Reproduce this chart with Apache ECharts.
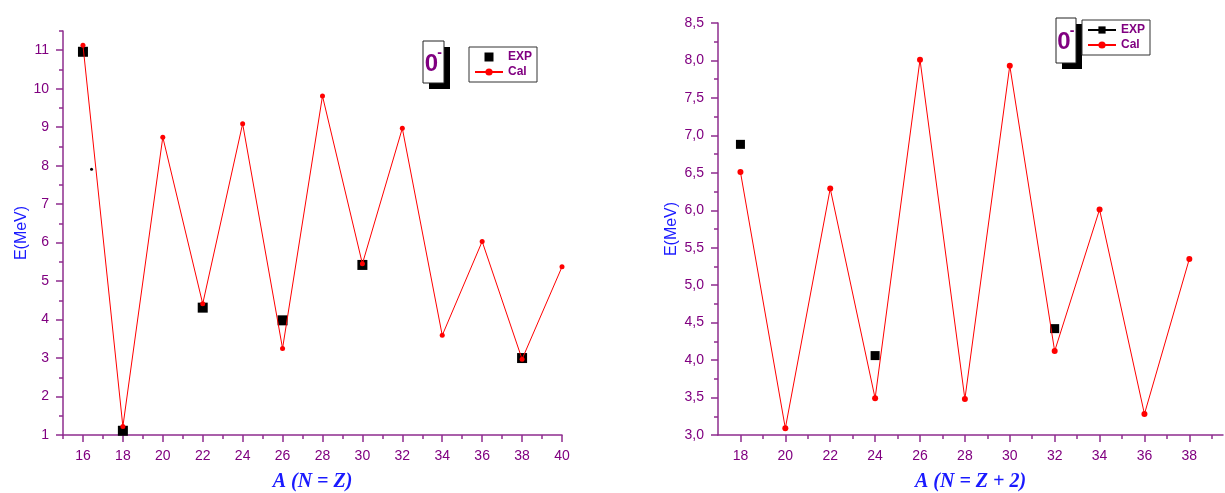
<!DOCTYPE html>
<html><head><meta charset="utf-8">
<script src="https://cdn.jsdelivr.net/npm/echarts@6/dist/echarts.min.js"></script>
<style>html,body{margin:0;padding:0;background:#fff}#c{width:1225px;height:493px}</style>
</head><body><div id="c"></div>
<script>
// ---- data ----
const leftX = [16,18,20,22,24,26,28,30,32,34,36,38,40];
const leftCal = [11.13,1.22,8.74,4.41,9.09,3.25,9.81,5.45,8.97,3.59,6.03,2.97,5.37];
const leftExpX = [16,18,22,26,30,38];
const leftExp = [10.96,1.11,4.31,3.98,5.42,3.00];
const leftStrayX = [16.43];
const leftStrayY = [7.91];
const rightX = [18,20,22,24,26,28,30,32,34,36,38];
const rightCal = [6.51,3.09,6.29,3.49,8.01,3.48,7.93,4.12,6.01,3.28,5.35];
const rightExpX = [18,24,32];
const rightExp = [6.88,4.06,4.42];
// tick positions
const leftXMajor = [16,18,20,22,24,26,28,30,32,34,36,38,40];
const leftXMinor = [15,17,19,21,23,25,27,29,31,33,35,37,39];
const leftYMajor = [1,2,3,4,5,6,7,8,9,10,11];
const leftYMinor = [1.5,2.5,3.5,4.5,5.5,6.5,7.5,8.5,9.5,10.5,11.5];
const rightXMajor = [18,20,22,24,26,28,30,32,34,36,38];
const rightXMinor = [19,21,23,25,27,29,31,33,35,37,39];
const rightYMajor = [3,3.5,4,4.5,5,5.5,6,6.5,7,7.5,8,8.5];
const rightYMinor = [3.25,3.75,4.25,4.75,5.25,5.75,6.25,6.75,7.25,7.75,8.25];

const PURPLE = '#800080';
const AXIS = '#8e2c8e';
const BLUE = '#1a1aff';
const FONT = 'Liberation Sans, Arial, sans-serif';

function pairs(xs, ys){ return xs.map((x,i)=>[x, ys[i]]); }
function broken(xs, ys){
  const out = [];
  xs.forEach((x,i)=>{ if(i>0) out.push([(xs[i-1]+x)/2, null]); out.push([x, ys[i]]); });
  return out;
}

function xMain(grid, min, max, major, name){
  return {type:'value', gridIndex:grid, min:min, max:max, position:'bottom',
    axisLine:{show:true, lineStyle:{color:AXIS, width:1.5}},
    axisTick:{show:true, length:7, customValues:major, lineStyle:{color:AXIS, width:1.5}},
    axisLabel:{show:true, customValues:major, color:PURPLE, fontSize:14, fontFamily:FONT, margin:14},
    splitLine:{show:false},
    name:name, nameLocation:'middle', nameGap:37,
    nameTextStyle:{color:BLUE, fontSize:20, fontStyle:'italic', fontWeight:'bold', fontFamily:'Liberation Serif, DejaVu Serif, serif'}
  };
}
function xMinor(grid, min, max, minor){
  return {type:'value', gridIndex:grid, min:min, max:max, position:'bottom',
    axisLine:{show:false}, axisLabel:{show:false}, splitLine:{show:false},
    axisTick:{show:true, length:4, customValues:minor, lineStyle:{color:AXIS, width:1.5}}};
}
function yMain(grid, min, max, major, fmt, gap){
  return {type:'value', gridIndex:grid, min:min, max:max, position:'left',
    axisLine:{show:true, lineStyle:{color:AXIS, width:1.5}},
    axisTick:{show:true, length:7, customValues:major, lineStyle:{color:AXIS, width:1.5}},
    axisLabel:{show:true, customValues:major, color:PURPLE, fontSize:14, fontFamily:FONT, margin:14, formatter:fmt},
    splitLine:{show:false},
    name:'E(MeV)', nameLocation:'middle', nameGap:gap, nameRotate:90,
    nameTextStyle:{color:BLUE, fontSize:16, fontFamily:FONT}
  };
}
function yMinor(grid, min, max, minor){
  return {type:'value', gridIndex:grid, min:min, max:max, position:'left',
    axisLine:{show:false}, axisLabel:{show:false}, splitLine:{show:false},
    axisTick:{show:true, length:4, customValues:minor, lineStyle:{color:AXIS, width:1.5}}};
}

const legendBase = {orient:'vertical', borderColor:'#333', borderWidth:1, padding:[4,5,4,5],
  itemGap:3, itemWidth:28, itemHeight:9, backgroundColor:'#fff',
  textStyle:{color:PURPLE, fontWeight:'bold', fontSize:12, fontFamily:FONT},
  formatter: n => n.replace('2','')};

function titleBox(x, y, w, h){
  return {type:'group', children:[
    {type:'rect', shape:{x:x+6, y:y+6, width:w, height:h}, style:{fill:'#000'}},
    {type:'rect', shape:{x:x, y:y, width:w, height:h}, style:{fill:'#fff', stroke:'#222', lineWidth:1}},
    {type:'text', x:x+w/2-2, y:y+h/2+2, style:{text:'0', fill:PURPLE, font:'bold 24px '+FONT, align:'center', verticalAlign:'middle'}},
    {type:'text', x:x+w/2+6, y:y+h/2-9, style:{text:'-', fill:PURPLE, font:'bold 14px '+FONT, align:'center', verticalAlign:'middle'}}
  ]};
}

const chart = echarts.init(document.getElementById('c'), null, {renderer:'canvas'});
chart.setOption({
  animation:false,
  backgroundColor:'#fff',
  grid:[
    {left:63, top:31, width:499, height:404, containLabel:false, outerBoundsMode:'none'},
    {left:718, top:23, width:505, height:412, containLabel:false, outerBoundsMode:'none'}
  ],
  xAxis:[
    xMain(0, 15, 40, leftXMajor, 'A (N = Z)'),
    xMinor(0, 15, 40, leftXMinor),
    xMain(1, 17, 39.5, rightXMajor, 'A (N = Z + 2)'),
    xMinor(1, 17, 39.5, rightXMinor)
  ],
  yAxis:[
    yMain(0, 1, 11.5, leftYMajor, v => String(v), 32),
    yMinor(0, 1, 11.5, leftYMinor),
    yMain(1, 3, 8.5, rightYMajor, v => v.toFixed(1).replace('.', ','), 38),
    yMinor(1, 3, 8.5, rightYMinor)
  ],
  legend:[
    Object.assign({}, legendBase, {left:469, top:47,
      data:[{name:'EXP', icon:'path://M0,0H10V10H0Z'}, {name:'Cal'}]}),
    Object.assign({}, legendBase, {left:1082, top:20,
      data:[{name:'EXP2'}, {name:'Cal2'}]})
  ],
  graphic:[ titleBox(423, 41, 21, 42), titleBox(1056, 18, 20, 45) ],
  series:[
    {name:'EXP', type:'scatter', xAxisIndex:0, yAxisIndex:0, data:pairs(leftExpX, leftExp),
      symbol:'rect', symbolSize:10, itemStyle:{color:'#000', opacity:1}, z:2},
    {name:'stray', type:'scatter', xAxisIndex:0, yAxisIndex:0, data:pairs(leftStrayX, leftStrayY),
      symbol:'circle', symbolSize:3, itemStyle:{color:'#000', opacity:1}, z:2},
    {name:'Cal', type:'line', xAxisIndex:0, yAxisIndex:0, data:pairs(leftX, leftCal),
      symbol:'circle', symbolSize:5, showSymbol:true, lineStyle:{color:'#ff0000', width:1},
      itemStyle:{color:'#ff0000'}, z:3},
    {name:'EXP2', type:'line', xAxisIndex:2, yAxisIndex:2, data:broken(rightExpX, rightExp),
      connectNulls:false, symbol:'rect', symbolSize:9, showSymbol:true,
      lineStyle:{color:'#000', width:1}, itemStyle:{color:'#000'}, z:2},
    {name:'Cal2', type:'line', xAxisIndex:2, yAxisIndex:2, data:pairs(rightX, rightCal),
      symbol:'circle', symbolSize:6, showSymbol:true, lineStyle:{color:'#ff0000', width:1},
      itemStyle:{color:'#ff0000'}, z:3}
  ]
});
</script></body></html>
